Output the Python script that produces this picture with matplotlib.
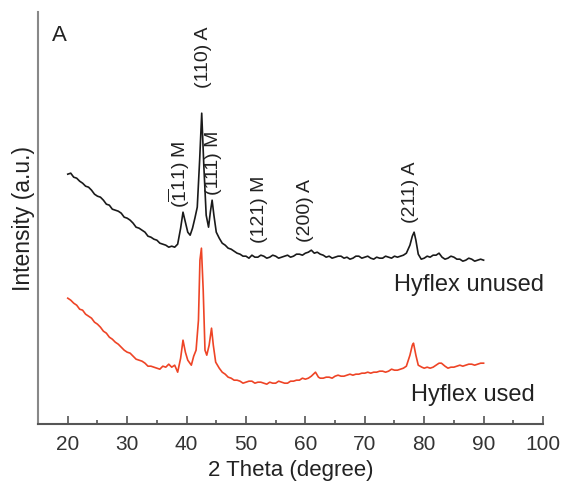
import matplotlib
matplotlib.use('Agg')
import matplotlib.pyplot as plt
from matplotlib.ticker import MultipleLocator

plt.rcParams['font.family'] = ['Liberation Sans', 'DejaVu Sans']
plt.rcParams['mathtext.fontset'] = 'custom'
plt.rcParams['mathtext.rm'] = 'Liberation Sans'

# 2 theta (degree) and intensity (a.u.)
theta_unused = [20, 20.5, 21, 21.5, 22, 22.5, 23, 23.5, 24, 24.5, 25, 25.5, 26, 26.5, 27, 27.5,
                28, 28.5, 29, 29.5, 30, 30.5, 31, 31.5, 32, 32.5, 33, 33.5, 34, 34.5, 35, 35.5,
                36, 36.5, 37, 37.5, 38, 38.5, 39, 39.4, 39.8, 40.2, 40.6, 41.0, 41.4, 41.8, 42.2,
                42.55, 42.9, 43.3, 43.7, 44.0, 44.3, 44.6, 45.0,
                45.5, 46, 46.5, 47, 47.5, 48, 48.5, 49, 49.5, 50, 50.5, 51, 51.5, 52, 52.5, 53,
                53.5, 54, 54.5, 55, 55.5, 56, 56.5, 57, 57.5, 58, 58.5, 59, 59.5, 60, 60.5, 61,
                61.5, 62, 62.5, 63, 63.5, 64, 64.5, 65, 65.5, 66, 66.5, 67, 67.5, 68, 68.5, 69,
                69.5, 70, 70.5, 71, 71.5, 72, 72.5, 73, 73.5, 74, 74.5, 75, 75.5, 76, 76.5, 77,
                77.6, 78.0, 78.3, 78.6, 79.0, 79.5, 80, 80.5, 81, 81.5, 82, 82.5, 83, 83.5, 84,
                84.5, 85, 85.5, 86, 86.5, 87, 87.5, 88, 88.5, 89, 89.5, 90]
int_unused = [250, 251, 247, 246, 243, 241, 238, 237, 234, 230, 228, 227, 224, 220, 219, 215,
              214, 213, 211, 207, 206, 204, 201, 197, 196, 194, 192, 188, 187, 185, 184, 181,
              180, 179, 177, 178, 177, 180, 196, 212, 202, 192, 189, 196, 206, 217, 264,
              311, 259, 209, 197, 212, 224, 209, 192,
              186, 181, 179, 176, 175, 173, 171, 170, 168, 168, 166, 169, 167, 167, 169, 168,
              166, 167, 169, 168, 166, 167, 168, 169, 167, 168, 170, 170, 169, 171, 172, 174,
              171, 172, 170, 169, 167, 168, 166, 167, 168, 168, 166, 167, 165, 166, 168, 168,
              166, 167, 168, 166, 165, 167, 166, 166, 168, 167, 166, 168, 167, 168, 169, 171,
              179, 188, 192, 184, 170, 165, 166, 168, 167, 169, 169, 171, 167, 165, 166,
              168, 167, 165, 165, 163, 164, 166, 165, 163, 164, 165, 164]

theta_used = [20, 20.5, 21, 21.5, 22, 22.5, 23, 23.5, 24, 24.5, 25, 25.5, 26, 26.5, 27, 27.5,
              28, 28.5, 29, 29.5, 30, 30.5, 31, 31.5, 32, 32.5, 33, 33.5, 34, 34.5, 35, 35.5,
              36, 36.5, 37, 37.5, 38, 38.5, 39, 39.4, 39.8, 40.2, 40.8, 41.2, 41.6, 42.0, 42.25,
              42.5, 42.8, 43.1, 43.4, 43.8, 44.2, 44.5, 44.9,
              45.5, 46, 46.5, 47, 47.5, 48, 48.5, 49, 49.5, 50, 50.5, 51, 51.5, 52, 52.5, 53,
              53.5, 54, 54.5, 55, 55.5, 56, 56.5, 57, 57.5, 58, 58.5, 59, 59.5, 60, 60.5, 61,
              61.7, 62.2, 62.5, 63, 63.5, 64, 64.5, 65, 65.5, 66, 66.5, 67, 67.5, 68, 68.5, 69,
              69.5, 70, 70.5, 71, 71.5, 72, 72.5, 73, 73.5, 74, 74.5, 75, 75.5, 76, 76.5, 77,
              77.6, 78.0, 78.2, 78.6, 79.0, 79.6, 80, 80.5, 81, 81.5, 82, 82.5, 82.9, 83.5, 84,
              84.5, 85, 85.5, 86, 86.5, 87, 87.5, 88, 88.5, 89, 89.5, 90]
int_used = [126, 124, 121, 119, 115, 114, 110, 108, 106, 102, 100, 97, 93, 91, 87, 85,
            82, 80, 77, 74, 72, 71, 68, 65, 64, 63, 61, 58, 58, 57, 56, 55,
            58, 57, 60, 57, 59, 52, 66, 84, 72, 64, 59, 68, 74, 104, 164,
            176, 134, 74, 69, 79, 96, 79, 62,
            56, 52, 50, 47, 46, 44, 44, 43, 41, 42, 43, 43, 41, 42, 42, 41,
            40, 42, 41, 41, 43, 42, 41, 41, 43, 43, 44, 44, 46, 45, 46, 48,
            52, 47, 46, 46, 47, 47, 46, 48, 49, 48, 48, 49, 50, 49, 50, 50,
            51, 51, 52, 51, 52, 52, 53, 53, 52, 53, 55, 54, 54, 55, 56, 58,
            69, 79, 81, 69, 59, 57, 56, 57, 56, 57, 59, 61, 61, 58, 56,
            57, 57, 58, 59, 58, 59, 60, 60, 59, 60, 61, 61]

# peak labels: text, 2 theta, intensity at label bottom
peak_text = [r'$\mathregular{(\overline{1}11)}$ M', '(110) A', '(111) M', '(121) M', '(200) A', '(211) A']
peak_x = [38.8, 42.85, 44.6, 52.3, 60.1, 77.7]
peak_y = [216, 336, 229, 181, 182, 201]

fig = plt.figure(figsize=(5.68, 4.87), dpi=100)
ax = fig.add_axes([0.067, 0.129, 0.889, 0.846])

ax.plot(theta_unused, int_unused, color='#1a1a1a', lw=1.2)
ax.plot(theta_used, int_used, color='#ee4426', lw=1.2)

for t, x, y in zip(peak_text, peak_x, peak_y):
    ax.text(x, y, t, rotation=90, ha='center', va='bottom', fontsize=14, color='#222222')

ax.text(75.0, 139, 'Hyflex unused', fontsize=17, va='center', color='#222222')
ax.text(77.85, 29, 'Hyflex used', fontsize=17, va='center', color='#222222')
ax.text(17.3, 389, 'A', fontsize=16, va='center', color='#222222')

ax.set_xlim(15, 100)
ax.set_ylim(0, 412)
ax.xaxis.set_minor_locator(MultipleLocator(5))
ax.set_xticks(range(20, 101, 10))
ax.set_yticks([])
ax.tick_params(axis='x', which='major', direction='in', length=6, width=1.2,
               colors='#555555', labelcolor='#333333', labelsize=15, pad=8)
ax.tick_params(axis='x', which='minor', direction='in', length=3, width=1.2, colors='#555555')
for s in ['top', 'right']:
    ax.spines[s].set_visible(False)
ax.spines['left'].set_color('#888888')
ax.spines['left'].set_linewidth(1.5)
ax.spines['bottom'].set_color('#555555')
ax.spines['bottom'].set_linewidth(1.5)

ax.set_xlabel('2 Theta (degree)', fontsize=16, color='#222222', labelpad=4)
ax.set_ylabel('Intensity (a.u.)', fontsize=16.5, color='#222222', labelpad=2)

fig.savefig('out.png', dpi=100)
